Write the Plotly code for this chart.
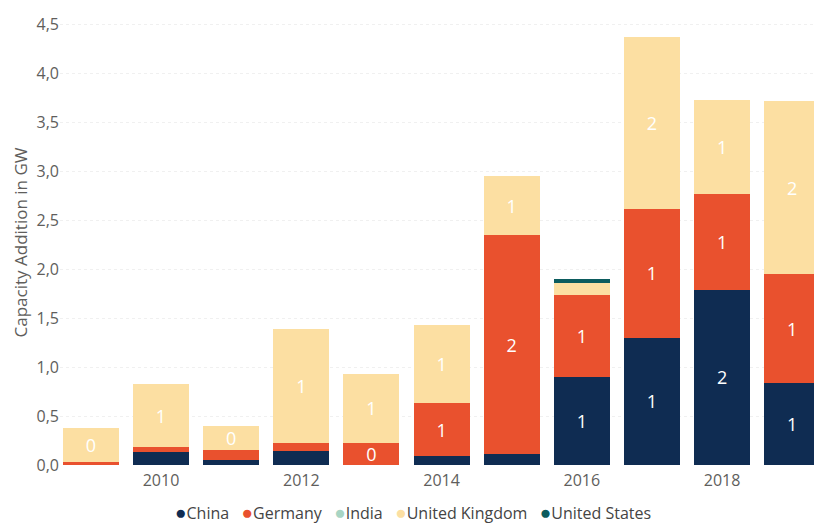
import plotly.graph_objects as go

# Capacity additions per year (GW)
years = [2009, 2010, 2011, 2012, 2013, 2014, 2015, 2016, 2017, 2018, 2019]
china = [0.00, 0.13, 0.05, 0.14, 0.00, 0.09, 0.11, 0.90, 1.30, 1.79, 0.84]
germany = [0.03, 0.05, 0.10, 0.08, 0.23, 0.54, 2.24, 0.84, 1.32, 0.98, 1.11]
india = [0.00, 0.00, 0.00, 0.00, 0.00, 0.00, 0.00, 0.00, 0.00, 0.00, 0.00]
united_kingdom = [0.35, 0.65, 0.25, 1.17, 0.70, 0.80, 0.60, 0.12, 1.76, 0.96, 1.77]
united_states = [0.00, 0.00, 0.00, 0.00, 0.00, 0.00, 0.00, 0.04, 0.00, 0.00, 0.00]

series_names = ["China", "Germany", "India", "United Kingdom", "United States"]
series_values = [china, germany, india, united_kingdom, united_states]
colors = ["#0F2C52", "#E9512E", "#A8D5C4", "#FCDFA2", "#0C5C5E"]

FONT = "Open Sans, Noto Sans, sans-serif"
AXIS_GREY = "#605E5C"

fig = go.Figure()
for name, vals, col in zip(series_names, series_values, colors):
    # segments too thin for a label stay blank, like the original
    labels = [f"{v:.0f}" if v >= 0.2 else "" for v in vals]
    fig.add_trace(go.Bar(
        x=years, y=vals, name=name, marker_color=col, marker_line_width=0,
        text=labels, textposition="inside", insidetextanchor="middle",
        textangle=0, textfont=dict(color="white", size=18, family=FONT),
        showlegend=False,
    ))

# legend row drawn as text with coloured dots
legend_text = "&nbsp;&nbsp;&nbsp;".join(
    f'<span style="color:{c};font-size:19px">●</span>{n}'
    for n, c in zip(series_names, colors)
)
fig.add_annotation(
    text=legend_text, xref="paper", yref="paper", x=0.468, y=-0.105,
    xanchor="center", yanchor="middle", showarrow=False,
    font=dict(size=16, color="#444444", family=FONT),
)

fig.update_layout(
    width=814, height=524,
    barmode="stack", bargap=0.2,
    separators=", ",
    plot_bgcolor="white", paper_bgcolor="white",
    margin=dict(l=60, r=0, t=20, b=59),
    font=dict(family=FONT, color=AXIS_GREY),
    uniformtext=dict(minsize=18, mode="show"),
    xaxis=dict(
        range=[2008.56, 2019.31], dtick=2, tick0=2010,
        showgrid=False, zeroline=False, showline=False, automargin=False,
        ticklabelstandoff=4,
        tickfont=dict(size=16, color=AXIS_GREY),
    ),
    yaxis=dict(
        range=[0, 4.55], dtick=0.5, tickformat=".1f",
        showgrid=True, gridcolor="#F0F0F0", griddash="dot", gridwidth=1,
        zeroline=False, showline=False, ticks="", automargin=False,
        tickfont=dict(size=16, color=AXIS_GREY),
        title=dict(text="Capacity Addition in GW", standoff=4,
                   font=dict(size=17, color=AXIS_GREY)),
    ),
)

# drop the page's default body margin so the figure sits at the top-left corner
fig.write_html("out.html", config={"displayModeBar": False},
               post_script="document.body.style.margin='0';")
